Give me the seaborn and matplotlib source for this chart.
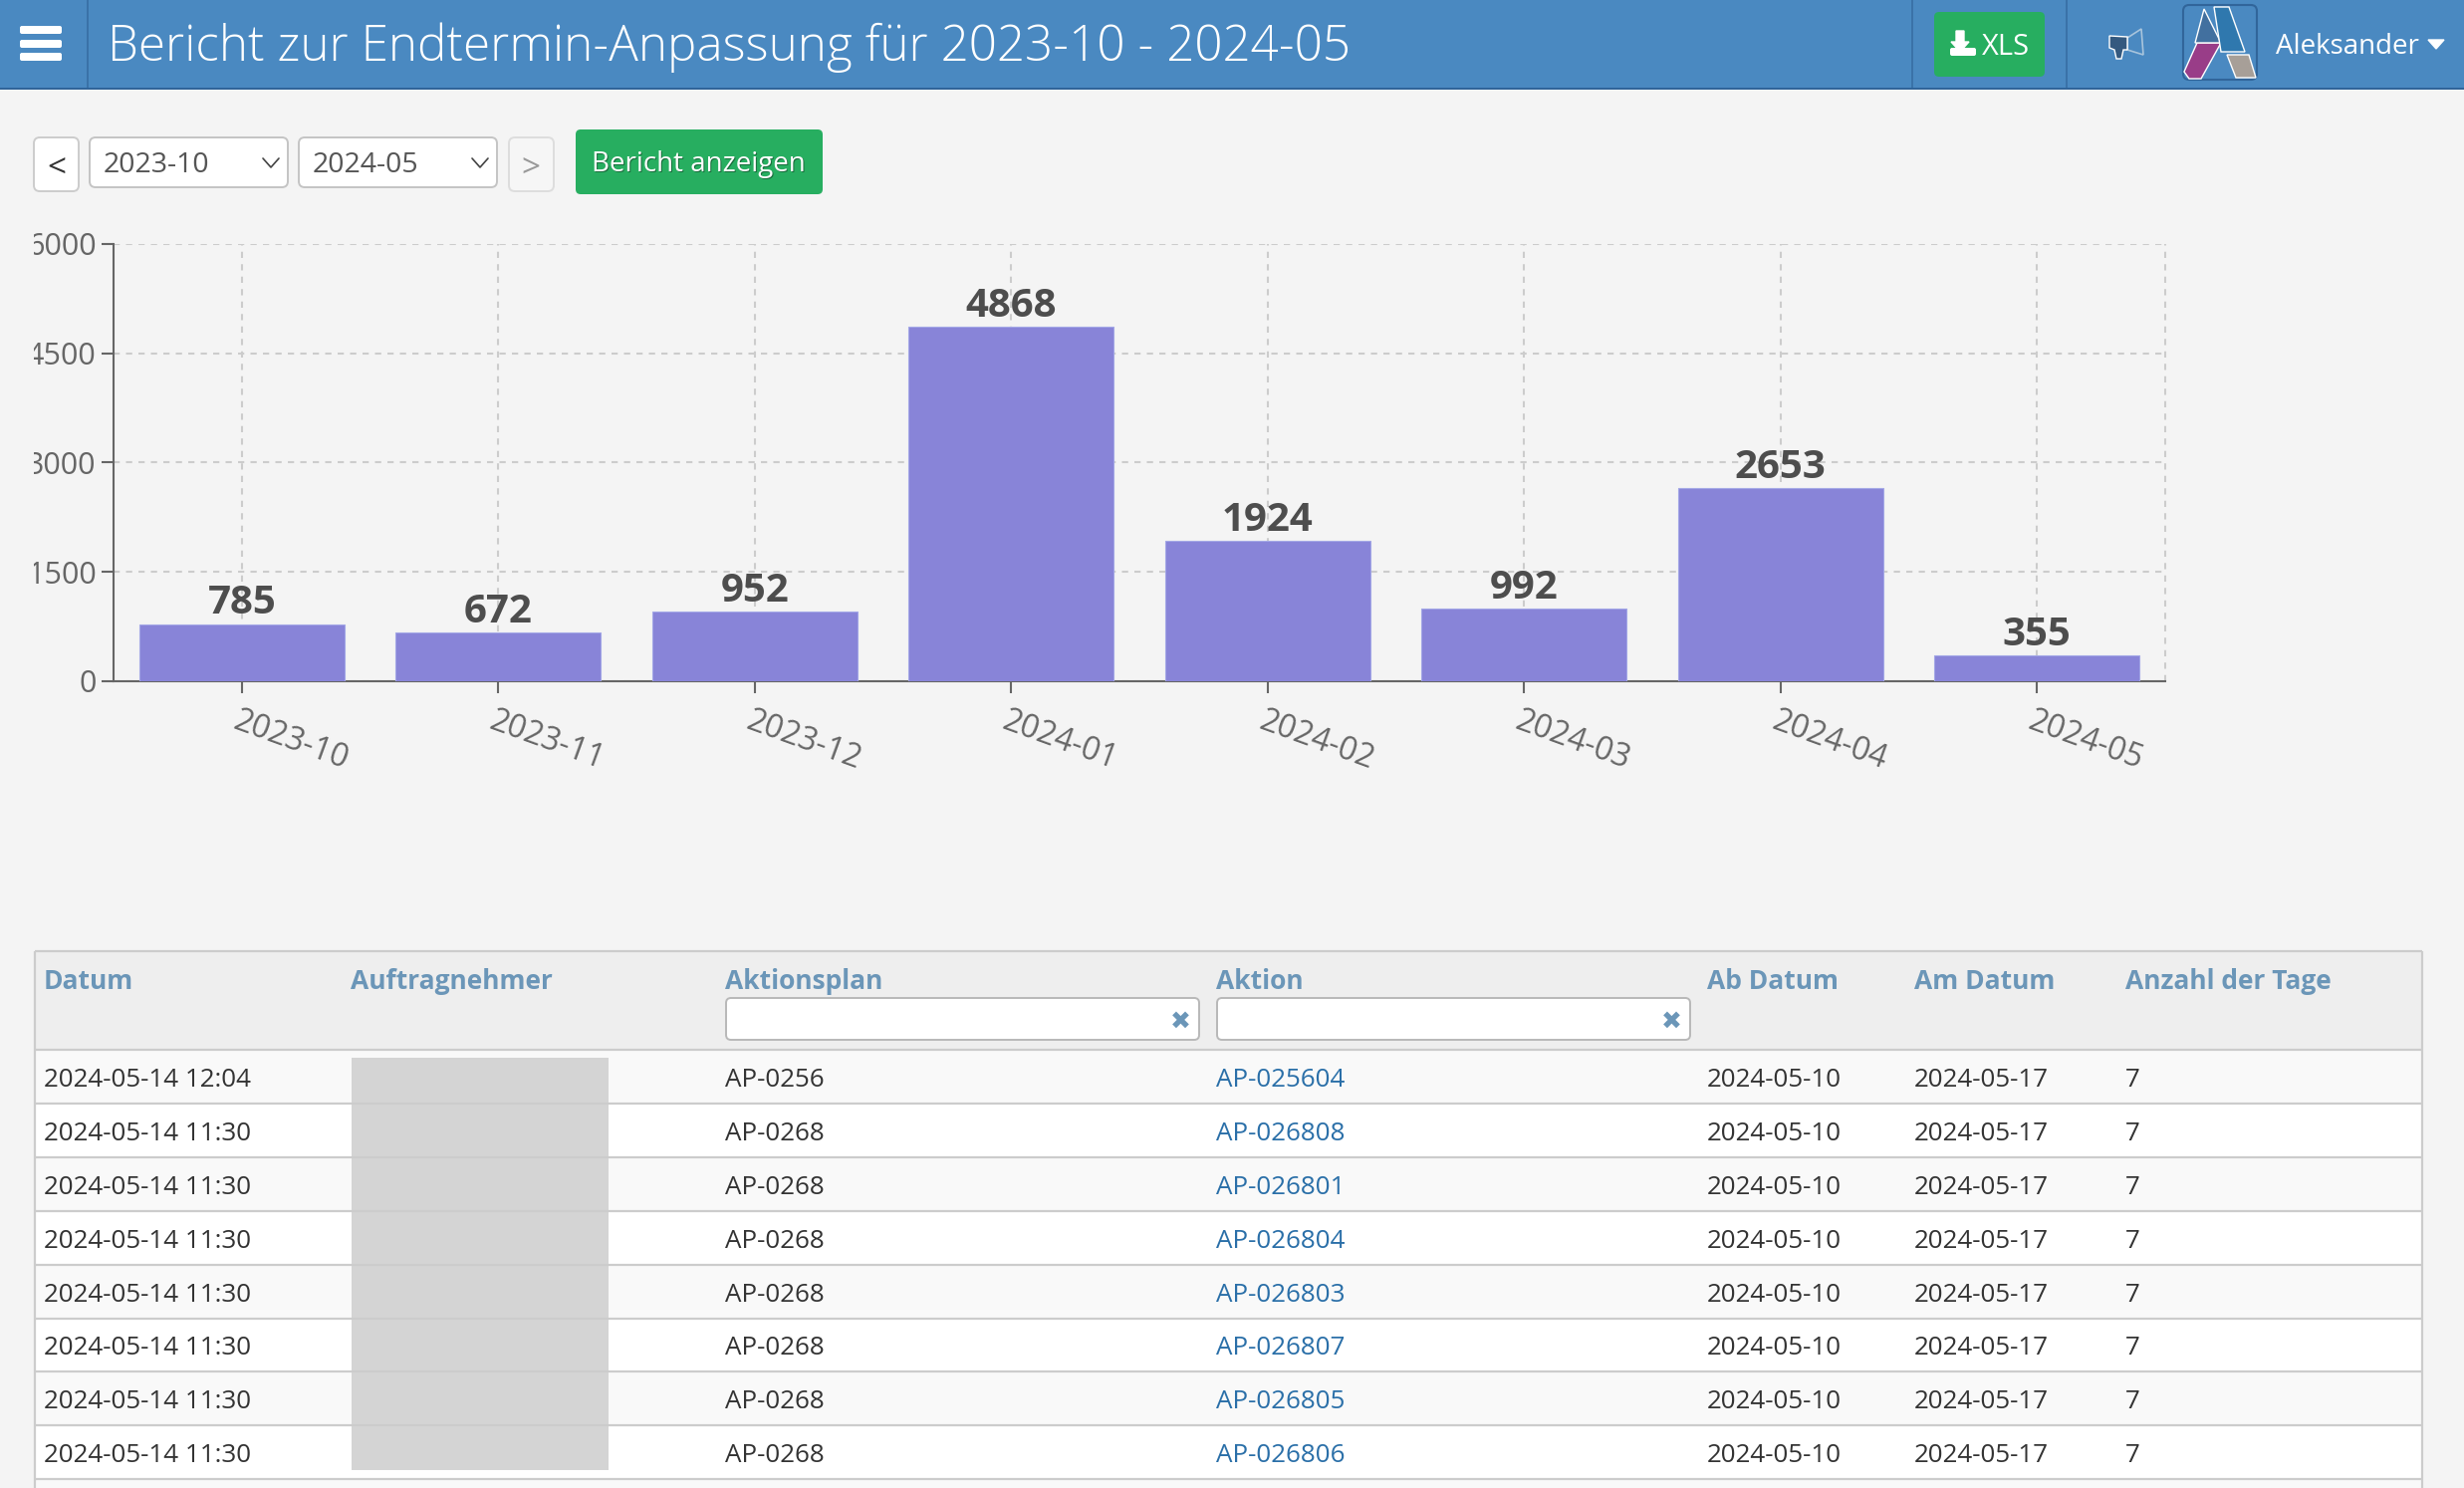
import matplotlib
matplotlib.use("Agg")
import matplotlib.pyplot as plt
import seaborn as sns
import pandas as pd
from matplotlib.patches import FancyBboxPatch, Polygon, Rectangle
from matplotlib.transforms import Bbox, ScaledTranslation

W, H = 2474, 1494

# chart data
months = ["2023-10", "2023-11", "2023-12", "2024-01", "2024-02", "2024-03", "2024-04", "2024-05"]
counts = [785, 672, 952, 4868, 1924, 992, 2653, 355]
y_ticks = [0, 1500, 3000, 4500, 6000]

# table data
columns = ["Datum", "Auftragnehmer", "Aktionsplan", "Aktion", "Ab Datum", "Am Datum", "Anzahl der Tage"]
datum = ["2024-05-14 12:04"] + ["2024-05-14 11:30"] * 7
plans = ["AP-0256"] + ["AP-0268"] * 7
actions = ["AP-025604", "AP-026808", "AP-026801", "AP-026804", "AP-026803", "AP-026807", "AP-026805", "AP-026806"]
from_date = ["2024-05-10"] * 8
to_date = ["2024-05-17"] * 8
days = [7] * 8

sns.set_theme(style="white")
plt.rcParams["font.family"] = ["Open Sans", "DejaVu Sans"]

BG = "#f4f4f4"
fig = plt.figure(figsize=(W / 100, H / 100), dpi=100, facecolor=BG)

# whole-page layer in pixel coordinates for the surrounding screen
ui = fig.add_axes([0, 0, 1, 1], zorder=0)
ui.set_xlim(0, W)
ui.set_ylim(H, 0)
ui.axis("off")


def box(x0, y0, x1, y1, fc, ec="none", lw=0, r=0):
    if r:
        p = FancyBboxPatch((x0, y0), x1 - x0, y1 - y0, boxstyle=f"round,pad=0,rounding_size={r}",
                           fc=fc, ec=ec, lw=lw)
    else:
        p = Rectangle((x0, y0), x1 - x0, y1 - y0, fc=fc, ec=ec, lw=lw)
    ui.add_patch(p)


def label(x, y, s, size=18.7, color="#333333", **kw):
    kw.setdefault("va", "baseline")
    return ui.text(x, y, s, fontsize=size, color=color, **kw)


# header bar
box(0, 0, W, 88, "#4a89c1")
box(0, 88, W, 90, "#31659a")
for yy in (26, 40, 53):
    box(20, yy, 62, yy + 8, "white", r=2)
for xx in (88, 1920, 2075):
    box(xx - 1, 0, xx + 1, 88, "#3a72a8")
label(108, 61, "Bericht zur Endtermin-Anpassung für 2023-10 - 2024-05", size=35.6, color="white", fontweight="light")

# XLS button
box(1942, 12, 2053, 77, "#27ae60", r=5)
ui.add_patch(Polygon([(1964, 31), (1972, 31), (1972, 42), (1977, 42), (1968, 52), (1959, 42), (1964, 42)], fc="white"))
box(1958, 48, 1984, 56, "white", r=2)
label(1990, 55, "XLS", size=21, color="white")

# megaphone
ui.add_patch(Polygon([(2136, 38), (2150, 29), (2152, 55), (2136, 50)], fc="#4a89c1", ec="#a8c4dc", lw=1.2))
ui.add_patch(Polygon([(2118, 36), (2136, 37), (2136, 50), (2132, 50), (2130, 59), (2125, 59), (2123, 50), (2118, 48)],
                     fc="#34597f"))

# avatar
box(2192, 5, 2266, 80, "#4a89c1", ec="#31659a", lw=1.5, r=6)
ui.add_patch(Polygon([(2193, 72), (2206, 43), (2230, 43), (2210, 79), (2198, 79)], fc="#993d88"))
ui.add_patch(Polygon([(2204, 43), (2213, 9), (2230, 43)], fc="#42709f"))
ui.add_patch(Polygon([(2223, 7), (2238, 7), (2254, 52), (2230, 52)], fc="#2f78ae"))
ui.add_patch(Polygon([(2236, 55), (2258, 55), (2265, 78), (2245, 78)], fc="#a79f98"))
label(2285, 54, "Aleksander", size=20, color="white")
ui.add_patch(Polygon([(2438, 40), (2454, 40), (2446, 49)], fc="white"))

# filter row
box(34, 138, 79, 192, "white", ec="#cccccc", lw=1.4, r=6)
label(57, 178, "<", size=24, color="#333333", ha="center")
for x0, x1, val in ((90, 289, months[0]), (300, 499, months[-1])):
    box(x0, 138, x1, 188, "white", ec="#c4c4c4", lw=1.4, r=6)
    label(x0 + 14, 173, val, size=20.5, color="#555555")
    ui.plot([x1 - 25, x1 - 17, x1 - 9], [159, 168, 159], color="#444444", lw=1.2)
box(511, 138, 556, 192, "#f6f6f6", ec="#dddddd", lw=1.4, r=6)
label(533, 178, ">", size=24, color="#999999", ha="center")
box(578, 130, 826, 195, "#27ae60", r=5)
label(702, 173, "Bericht anzeigen", size=20, color="#1a6b3c", ha="center")
label(701, 172, "Bericht anzeigen", size=20, color="white", ha="center")

# chart
ax_left, ax_right, ax_top, ax_bottom = 114, 2174, 245, 684
ax = fig.add_axes([ax_left / W, 1 - ax_bottom / H, (ax_right - ax_left) / W, (ax_bottom - ax_top) / H], zorder=2)
ax.patch.set_alpha(0)
df = pd.DataFrame({"month": months, "count": counts})
sns.barplot(data=df, x="month", y="count", color="#8884d8", saturation=1, width=0.8,
            edgecolor="#a3a7e6", linewidth=0.8, ax=ax, zorder=3)
ax.set_xlim(-0.5, 7.5)
ax.set_ylim(0, 6000)
ax.set_yticks(y_ticks)
ax.set_xlabel("")
ax.set_ylabel("")
ax.grid(True, color="#cccccc", linestyle=(0, (3, 3)), linewidth=1.5)
ax.set_axisbelow(True)
ax.axvline(7.5, color="#cccccc", linestyle=(0, (3, 3)), linewidth=1.5, clip_on=False)
sns.despine(ax=ax)
for side in ("left", "bottom"):
    ax.spines[side].set_color("#666666")
    ax.spines[side].set_linewidth(1.5)
ax.tick_params(axis="both", length=8.6, width=1.5, color="#666666", labelcolor="#666666", labelsize=22,
               bottom=True, left=True, pad=4)
ax.tick_params(axis="x", labelsize=23, pad=8)
ax.bar_label(ax.containers[0], fontsize=29, fontweight="bold", color="#4d4d4d", padding=0.8)

# x labels hang off the tick at an angle, start slightly left of it
shift = ScaledTranslation(-2 / 100, 0, fig.dpi_scale_trans)
for t in ax.get_xticklabels():
    t.set_rotation(-20)
    t.set_rotation_mode("anchor")
    t.set_ha("left")
    t.set_va("top")
    t.set_transform(t.get_transform() + shift)

# first digit of the y labels is cut off by the page container
for t in ax.get_yticklabels():
    t.set_clip_box(Bbox([[34, 0], [W, H]]))
    t.set_clip_on(True)

# table
tbl_left, tbl_right, tbl_top, head_bottom = 35, 2432, 955, 1054
row_h = 53.9
col_x = [44, 352, 728, 1221, 1714, 1922, 2134]
box(tbl_left, tbl_top, tbl_right, head_bottom, "#eeeeee")
for i in range(len(datum)):
    y0 = head_bottom + i * row_h
    box(tbl_left, y0, tbl_right, y0 + row_h, "#f9f9f9" if i % 2 == 0 else "white")
line = dict(color="#cccccc", lw=1.6, solid_capstyle="butt")
ui.plot([tbl_left, tbl_right], [tbl_top, tbl_top], **line)
for i in range(len(datum) + 1):
    yy = head_bottom + i * row_h
    ui.plot([tbl_left, tbl_right], [yy, yy], **line)
ui.plot([tbl_left, tbl_left], [tbl_top, H], **line)
ui.plot([tbl_right, tbl_right], [tbl_top, H], **line)
box(tbl_left + 1, head_bottom + 8 * row_h + 1, tbl_right - 1, H, "#f9f9f9")

for x, name in zip(col_x, columns):
    label(x, 993, name, size=19, color="#6b96b8", fontweight="bold")
for x0, x1 in ((729, 1204), (1222, 1697)):
    box(x0, 1002, x1, 1044, "white", ec="#b8b8b8", lw=1.4, r=5)
    label(x1 - 19, 1033, "✖", size=18, color="#6b96b8", ha="center", family=["DejaVu Sans"])

for i in range(len(datum)):
    yy = head_bottom + i * row_h + 37
    label(col_x[0], yy, datum[i])
    label(col_x[2], yy, plans[i])
    label(col_x[3], yy, actions[i], color="#2a6fa8")
    label(col_x[4], yy, from_date[i])
    label(col_x[5], yy, to_date[i])
    label(col_x[6], yy, str(days[i]))

# redacted block over the contractor column
box(353, 1062, 611, 1476, "#d4d4d4")

fig.savefig("out.png", dpi=100, facecolor=BG)
